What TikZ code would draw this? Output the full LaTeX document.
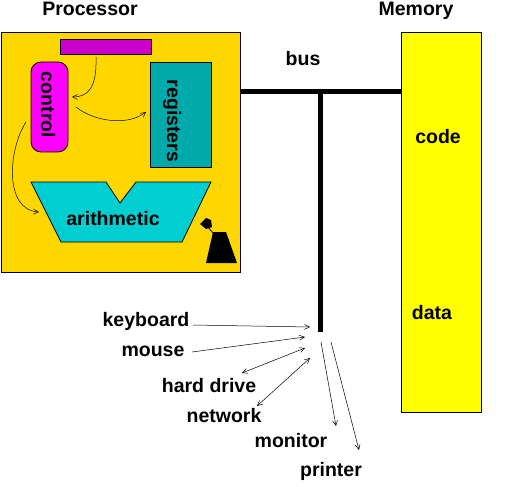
\documentclass[tikz,border=0pt]{standalone}
\usepackage{fontspec}
\setmainfont{Liberation Sans}
\usetikzlibrary{arrows.meta}
\definecolor{procgold}{RGB}{255,215,0}
\definecolor{memyellow}{RGB}{255,255,0}
\definecolor{topmag}{RGB}{204,0,204}
\definecolor{ctrlmag}{RGB}{255,0,255}
\definecolor{regteal}{RGB}{0,170,170}
\definecolor{arithcyan}{RGB}{0,206,209}
\begin{document}
\begin{tikzpicture}[x=1pt,y=-1pt,
  box/.style={draw=black,line width=0.8pt,inner sep=0pt,outer sep=0pt},
  lbl/.style={font=\fontsize{19.5}{23}\selectfont\bfseries,inner sep=0pt,anchor=base},
  rlbl/.style={font=\fontsize{19.5}{23}\selectfont\bfseries,inner sep=0pt,rotate=-90},
  thin arrow/.style={line width=0.5pt,-{Straight Barb[length=5pt,width=5pt]}},
  thin both/.style={line width=0.5pt,{Straight Barb[length=5pt,width=5pt]}-{Straight Barb[length=5pt,width=5pt]}},
  busline/.style={line width=5pt}]
\useasboundingbox (0,0) rectangle (518,486);
% boxes
\node (proc) [box,fill=procgold,minimum width=239pt,minimum height=240pt] at (120.5,152) {};
\node (mem) [box,fill=memyellow,minimum width=80pt,minimum height=380pt] at (441,222) {};
\node (topbar) [box,fill=topmag,minimum width=91pt,minimum height=15pt] at (105.5,46.5) {};
\node (ctrl) [box,fill=ctrlmag,minimum width=37pt,minimum height=90pt,rounded corners=10pt] at (49.5,107) {};
\node (regs) [box,fill=regteal,minimum width=61pt,minimum height=105pt] at (180.5,114.5) {};
\draw[line width=0.8pt,fill=arithcyan] (31,182) -- (106,182) -- (120,203) -- (136,182) -- (211,182)
  -- (182,242) -- (61,242) -- cycle;
% labels
\node (tproc) [lbl] at (90,16) {Processor};
\node (tmem) [lbl] at (416,16) {Memory};
\node (tbus) [lbl] at (303,66) {bus};
\node (tcode) [lbl] at (438,144) {code};
\node (tdata) [lbl] at (432,319) {data};
\node (tctrl) [rlbl] at (48,105) {control};
\node (tregs) [rlbl] at (172,121) {registers};
\node (tarith) [lbl] at (113,225) {arithmetic};
\node (tkey) [lbl] at (146,326) {keyboard};
\node (tmouse) [lbl] at (153,356) {mouse};
\node (thd) [lbl] at (209,392) {hard drive};
\node (tnet) [lbl] at (224,422) {network};
\node (tmon) [lbl] at (291,447) {monitor};
\node (tprn) [lbl] at (331,476) {printer};
% black gadget
\fill (213,232) -- (226,232) -- (237,263) -- (206,263) -- cycle;
\fill (200,224) -- (206,218) -- (211,220) -- (212,227) -- (206,229) -- cycle;
\draw[line width=0.8pt] (207,226) -- (214,234);
% bus
\coordinate (busL) at (proc.east |- 0,92);
\coordinate (busR) at (mem.west |- 0,92);
\coordinate (busT) at (320.5,92);
\coordinate (busB) at (320.5,332);
\draw[busline] (busL) -- (busR);
\draw[busline] (busT) -- (busB);
% inner arrows
\coordinate (a1s) at (96,57);
\coordinate (a1e) at (72,97);
\coordinate (a2s) at (76,107);
\coordinate (a2e) at (146,112);
\coordinate (a3s) at (26,122);
\coordinate (a3e) at (39,212);
\draw[thin arrow] (a1s) .. controls (97,88) and (88,97) .. (a1e);
\draw[thin arrow] (a2s) .. controls (95,122) and (128,126) .. (a2e);
\draw[thin arrow] (a3s) .. controls (8,150) and (4,210) .. (a3e);
% I/O arrows
\coordinate (k1) at (193,325);
\coordinate (k2) at (310,327);
\coordinate (m1) at (192,352);
\coordinate (m2) at (305,337);
\coordinate (h1) at (242,373);
\coordinate (h2) at (305,348);
\coordinate (n1) at (257,406);
\coordinate (n2) at (310,358);
\coordinate (o1) at (321,342);
\coordinate (o2) at (336,426);
\coordinate (p1) at (331,342);
\coordinate (p2) at (359,450);
\draw[thin arrow] (k1) -- (k2);
\draw[thin arrow] (m1) -- (m2);
\draw[thin both] (h1) -- (h2);
\draw[thin both] (n1) -- (n2);
\draw[thin arrow] (o1) -- (o2);
\draw[thin arrow] (p1) -- (p2);
\end{tikzpicture}
\end{document}
